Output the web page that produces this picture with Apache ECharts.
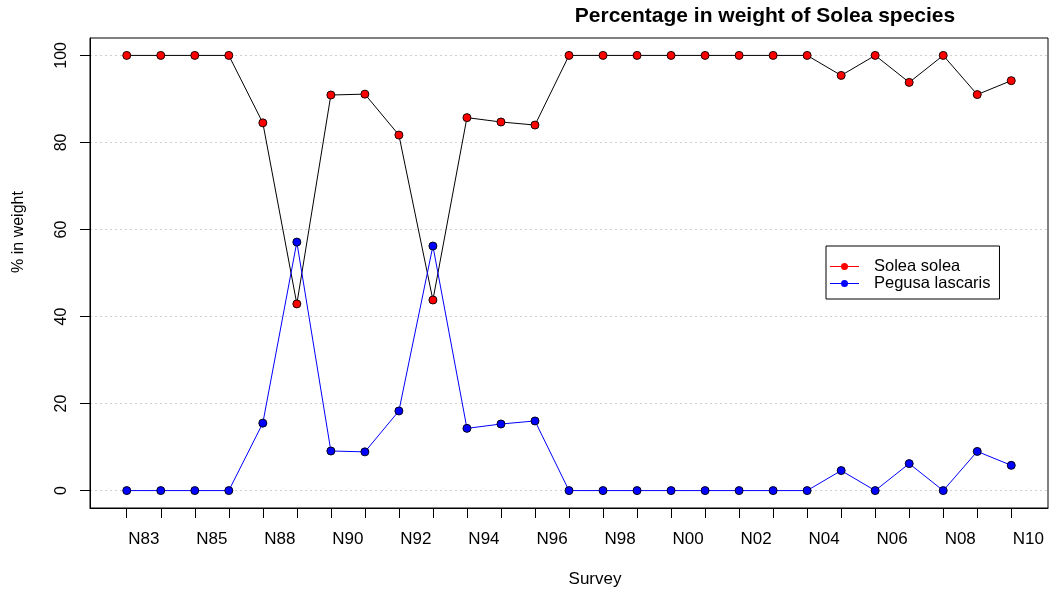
<!DOCTYPE html>
<html>
<head>
<meta charset="utf-8">
<title>Percentage in weight of Solea species</title>
<script src="https://cdn.jsdelivr.net/npm/echarts@6/dist/echarts.min.js"></script>
<style>
  html, body { margin: 0; padding: 0; background: #ffffff; }
  #chart { width: 1057px; height: 597px; }
</style>
</head>
<body>
<div id="chart"></div>
<script>
// Survey years (N87 not sampled)
const surveys = ['N83','N84','N85','N86','N88','N89','N90','N91','N92','N93','N94','N95','N96',
                 'N97','N98','N99','N00','N01','N02','N03','N04','N05','N06','N07','N08','N09','N10'];

// Share of total Solea catch weight (%)
const soleaSolea     = [100,100,100,100,84.5,42.9,90.9,91.1,81.7,43.8,85.7,84.7,84.0,
                        100,100,100,100,100,100,100,100,95.4,100,93.8,100,91.0,94.2];
const pegusaLascaris = [0,0,0,0,15.5,57.1,9.1,8.9,18.3,56.2,14.3,15.3,16.0,
                        0,0,0,0,0,0,0,0,4.6,0,6.2,0,9.0,5.8];

// Axis ticks
const yTicks = [0, 20, 40, 60, 80, 100];
const xTicks = surveys.map((s, i) => i);
const xLabelPos = surveys.map((s, i) => i + 0.5).filter((v, i) => i % 2 === 0);

const FONT = 'Liberation Sans, Arial, Helvetica, sans-serif';

// Legend key: short line with a dot in the middle
const LINE_DOT_ICON = 'path://M0,3.5L29,3.5L29,4.5L0,4.5Z M11,4A3.5,3.5,0,1,1,18,4A3.5,3.5,0,1,1,11,4Z';

const chart = echarts.init(document.getElementById('chart'), null, { renderer: 'canvas' });

chart.setOption({
  animation: false,
  backgroundColor: '#ffffff',
  grid: {
    left: 90, right: 9, top: 38, bottom: 89,
    show: true, borderColor: '#000000', borderWidth: 1, backgroundColor: 'transparent'
  },
  xAxis: {
    type: 'value',
    min: -1.08, max: 27.08,
    axisLine: { show: true, onZero: false, lineStyle: { color: '#000000', width: 1 } },
    axisTick: { show: true, length: 10, customValues: xTicks, lineStyle: { color: '#000000' } },
    axisLabel: {
      customValues: xLabelPos,
      margin: 23,
      color: '#000000', fontFamily: FONT, fontSize: 17,
      formatter: v => surveys[Math.round(v - 0.5)] || ''
    },
    splitLine: { show: false }
  },
  yAxis: {
    type: 'value',
    min: -4, max: 104,
    axisLine: { show: true, onZero: false, lineStyle: { color: '#000000', width: 1 } },
    axisTick: { show: true, length: 10, customValues: yTicks, lineStyle: { color: '#000000' } },
    axisLabel: {
      customValues: yTicks,
      rotate: 90, margin: 20,
      color: '#000000', fontFamily: FONT, fontSize: 16
    },
    splitLine: { show: true, lineStyle: { color: '#d0d0d0', type: [2, 3], width: 1 } }
  },
  legend: {
    orient: 'vertical',
    left: 826, top: 246,
    padding: [12, 9, 7, 4],
    itemWidth: 29, itemHeight: 7, itemGap: 0,
    borderColor: '#000000', borderWidth: 1,
    textStyle: { color: '#000000', fontFamily: FONT, fontSize: 16.5, padding: [0, 0, 0, 10] },
    data: [
      { name: 'Solea solea', icon: LINE_DOT_ICON,
        itemStyle: { color: '#ff0000', borderWidth: 0 } },
      { name: 'Pegusa lascaris', icon: LINE_DOT_ICON,
        itemStyle: { color: '#0000ff', borderWidth: 0 } }
    ]
  },
  graphic: [
    {
      type: 'text', x: 765, y: 16,
      style: {
        text: 'Percentage in weight of Solea species',
        fontFamily: FONT, fontSize: 21, fontWeight: 'bold', fill: '#000000',
        align: 'center', verticalAlign: 'middle'
      }
    },
    {
      type: 'text', x: 595, y: 579,
      style: {
        text: 'Survey', fontFamily: FONT, fontSize: 17, fill: '#000000',
        align: 'center', verticalAlign: 'middle'
      }
    },
    {
      type: 'text', x: 19, y: 232, rotation: Math.PI / 2,
      style: {
        text: '% in weight', fontFamily: FONT, fontSize: 16, fill: '#000000',
        align: 'center', verticalAlign: 'middle'
      }
    }
  ],
  series: [
    {
      name: 'Solea solea',
      type: 'line',
      data: soleaSolea.map((v, i) => [i, v]),
      symbol: 'circle', symbolSize: 8,
      itemStyle: { color: '#ff0000', borderColor: '#1a0000', borderWidth: 1 },
      lineStyle: { color: '#000000', width: 1 },
      z: 3
    },
    {
      name: 'Pegusa lascaris',
      type: 'line',
      data: pegusaLascaris.map((v, i) => [i, v]),
      symbol: 'circle', symbolSize: 8,
      itemStyle: { color: '#0000ff', borderColor: '#00001a', borderWidth: 1 },
      lineStyle: { color: '#0000ff', width: 1 },
      z: 4
    }
  ]
});
</script>
</body>
</html>
